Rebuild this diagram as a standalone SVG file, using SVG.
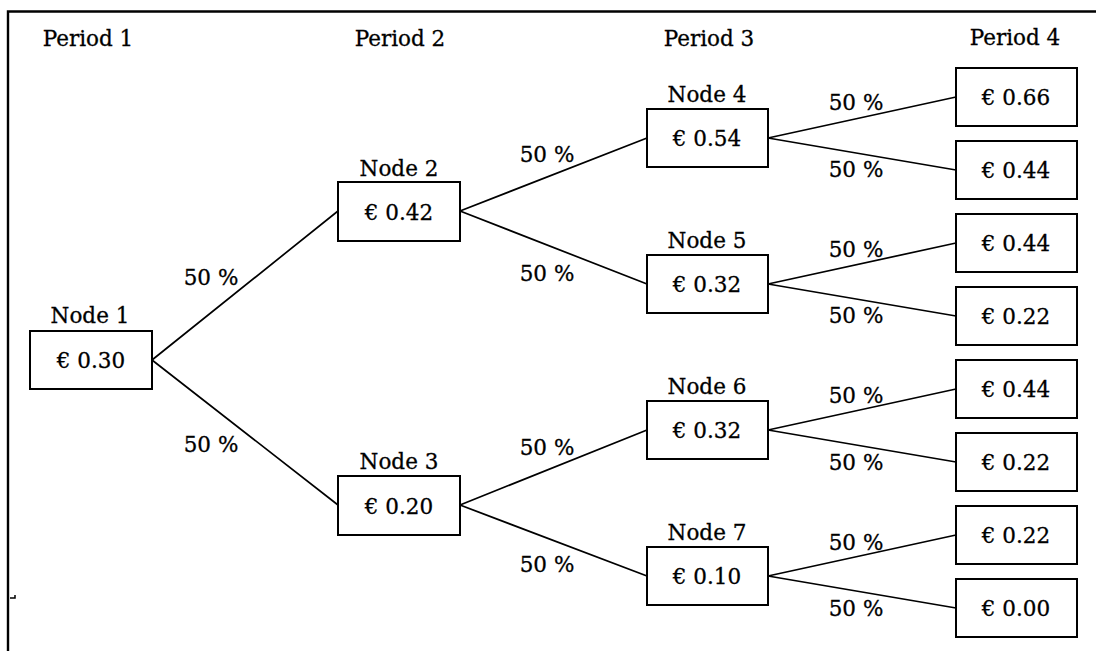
<svg xmlns="http://www.w3.org/2000/svg" width="1096" height="651" viewBox="0 0 1096 651">
  <style>
    text { font-family: "DejaVu Serif", "Liberation Serif", serif; font-size: 21.5px; fill: #000; stroke: #000; stroke-width: 0.3; text-anchor: middle; }
    .box { fill: #fff; stroke: #000; stroke-width: 2; }
    .edge { fill: none; stroke: #000; stroke-width: 1.7; }
    .frame { fill: none; stroke: #000; stroke-width: 2.4; }
  </style>

  <rect width="1096" height="651" fill="#fff"/>

  <!-- outer frame: top and left rules only -->
  <path class="frame" d="M8 651 V11.5 H1096"/>
  <path d="M10 598 h5 v-3" fill="none" stroke="#000" stroke-width="1.5"/>

  <!-- period headings -->
  <g id="periods">
    <text x="88" y="46">Period 1</text>
    <text x="400" y="46">Period 2</text>
    <text x="709" y="46">Period 3</text>
    <text x="1015" y="45">Period 4</text>
  </g>

  <!-- connectors with probabilities -->
  <g id="connectors">
    <path class="edge" d="M152 360 L338 211 M152 360 L338 505"/>
    <path class="edge" d="M460 211 L647 138 M460 211 L647 284 M460 505 L647 430 M460 505 L647 576"/>
    <path class="edge" d="M768 138 L956 97 M768 138 L956 170 M768 284 L956 243 M768 284 L956 316 M768 430 L956 389 M768 430 L956 462 M768 576 L956 535 M768 576 L956 608"/>
    <text x="211" y="285">50 %</text>
    <text x="211" y="452">50 %</text>
    <text x="547" y="162">50 %</text>
    <text x="547" y="281">50 %</text>
    <text x="547" y="455">50 %</text>
    <text x="547" y="572">50 %</text>
    <text x="856" y="110">50 %</text>
    <text x="856" y="177">50 %</text>
    <text x="856" y="257">50 %</text>
    <text x="856" y="323">50 %</text>
    <text x="856" y="403">50 %</text>
    <text x="856" y="470">50 %</text>
    <text x="856" y="550">50 %</text>
    <text x="856" y="616">50 %</text>
  </g>

  <!-- decision nodes -->
  <g id="node1">
    <text x="90" y="323">Node 1</text>
    <rect class="box" x="30" y="331" width="122" height="58"/>
    <text x="91" y="368">€ 0.30</text>
  </g>
  <g id="node2">
    <text x="399" y="176">Node 2</text>
    <rect class="box" x="338" y="182" width="122" height="59"/>
    <text x="399" y="220">€ 0.42</text>
  </g>
  <g id="node3">
    <text x="399" y="469">Node 3</text>
    <rect class="box" x="338" y="476" width="122" height="59"/>
    <text x="399" y="514">€ 0.20</text>
  </g>
  <g id="node4">
    <text x="707" y="102">Node 4</text>
    <rect class="box" x="647" y="109" width="121" height="58"/>
    <text x="707" y="146">€ 0.54</text>
  </g>
  <g id="node5">
    <text x="707" y="248">Node 5</text>
    <rect class="box" x="647" y="255" width="121" height="58"/>
    <text x="707" y="292">€ 0.32</text>
  </g>
  <g id="node6">
    <text x="707" y="394">Node 6</text>
    <rect class="box" x="647" y="401" width="121" height="58"/>
    <text x="707" y="438">€ 0.32</text>
  </g>
  <g id="node7">
    <text x="707" y="540">Node 7</text>
    <rect class="box" x="647" y="547" width="121" height="58"/>
    <text x="707" y="584">€ 0.10</text>
  </g>

  <!-- final outcomes -->
  <g id="leaf1"><rect class="box" x="956" y="68" width="121" height="58"/><text x="1016" y="105">€ 0.66</text></g>
  <g id="leaf2"><rect class="box" x="956" y="141" width="121" height="58"/><text x="1016" y="178">€ 0.44</text></g>
  <g id="leaf3"><rect class="box" x="956" y="214" width="121" height="58"/><text x="1016" y="251">€ 0.44</text></g>
  <g id="leaf4"><rect class="box" x="956" y="287" width="121" height="58"/><text x="1016" y="324">€ 0.22</text></g>
  <g id="leaf5"><rect class="box" x="956" y="360" width="121" height="58"/><text x="1016" y="397">€ 0.44</text></g>
  <g id="leaf6"><rect class="box" x="956" y="433" width="121" height="58"/><text x="1016" y="470">€ 0.22</text></g>
  <g id="leaf7"><rect class="box" x="956" y="506" width="121" height="58"/><text x="1016" y="543">€ 0.22</text></g>
  <g id="leaf8"><rect class="box" x="956" y="579" width="121" height="58"/><text x="1016" y="616">€ 0.00</text></g>
</svg>
